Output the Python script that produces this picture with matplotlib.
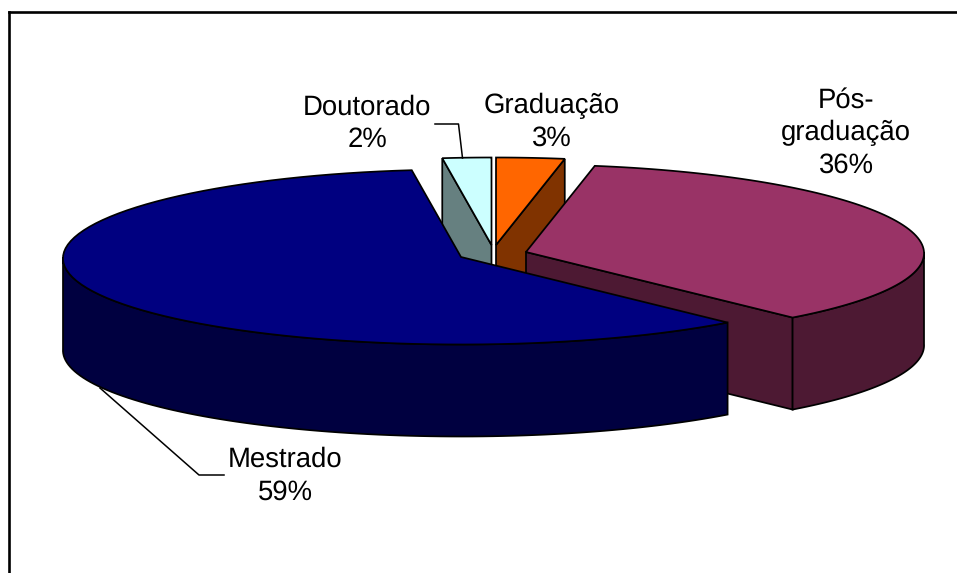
import numpy as np
import matplotlib
matplotlib.use("Agg")
import matplotlib.pyplot as plt
from matplotlib.patches import Polygon

plt.rcParams['font.family'] = ['Liberation Sans', 'DejaVu Sans']
plt.rcParams['text.hinting'] = 'none'

# Data, clockwise from 12 o'clock
categories = ["Graduação", "Pós-graduação", "Mestrado", "Doutorado"]
shares = [2.8, 35.6, 59.4, 2.0]
top_colors = ["#FF6600", "#993366", "#000080", "#CCFFFF"]
side_colors = ["#803300", "#4D1933", "#000040", "#668080"]
label_texts = ["Graduação", "Pós-\ngraduação", "Mestrado", "Doutorado"]

# Layout in pixels
W, H = 957, 573
apex = {"Graduação": (496, 245), "Pós-graduação": (526, 252),
        "Mestrado": (461, 257), "Doutorado": (491.5, 245)}
RX, RY, DEPTH = 398, 87.5, 92
PERSPECTIVE = 0.015
label_pos = {"Graduação": (552, 122), "Pós-graduação": (846, 133),
             "Mestrado": (285, 476), "Doutorado": (367, 123.5)}

fig = plt.figure(figsize=(W / 100, H / 100), dpi=100)
ax = fig.add_axes([0, 0, 1, 1])
ax.set_xlim(0, W)
ax.set_ylim(H, 0)
ax.axis("off")

edges = np.cumsum([0] + shares) / sum(shares) * 360
spans = dict(zip(categories, zip(edges[:-1], edges[1:])))
tops = dict(zip(categories, top_colors))
sides = dict(zip(categories, side_colors))


def rim(cat, t0, t1):
    cx, cy = apex[cat]
    t = np.radians(np.linspace(t0, t1, 90))
    stretch = 1 - PERSPECTIVE * np.cos(t)
    return np.column_stack([cx + RX * np.sin(t) * stretch, cy - RY * np.cos(t)])


def poly(pts, color, z):
    ax.add_patch(Polygon(pts, closed=True, facecolor=color, edgecolor="black",
                         linewidth=1.25, joinstyle="miter", zorder=z))


def down(pts):
    return np.asarray(pts) + [0, DEPTH]


def cut_face(cat, t, z):
    a = np.array([apex[cat]])
    r = rim(cat, t, t)[:1]
    poly(np.vstack([a, r, down(r), down(a)]), sides[cat], z)


def outer_wall(cat, t0, t1, z):
    arc = rim(cat, t0, t1)
    poly(np.vstack([arc, down(arc)[::-1]]), sides[cat], z)


def top_face(cat, z):
    t0, t1 = spans[cat]
    poly(np.vstack([[apex[cat]], rim(cat, t0, t1)]), tops[cat], z)


# Back to front
cut_face("Doutorado", spans["Doutorado"][0], 1)
top_face("Doutorado", 2)
cut_face("Graduação", spans["Graduação"][1], 1)
top_face("Graduação", 2)
cut_face("Pós-graduação", spans["Pós-graduação"][1], 3)
outer_wall("Pós-graduação", 90, spans["Pós-graduação"][1], 3)
top_face("Pós-graduação", 4)
outer_wall("Mestrado", spans["Mestrado"][0], 270, 5)
top_face("Mestrado", 6)

# Labels
for cat, lab, sh in zip(categories, label_texts, shares):
    x, y = label_pos[cat]
    ax.text(x, y, f"{lab}\n{round(sh)}%", ha="center", va="center", ma="center",
            fontsize=19.8, color="black", linespacing=1.3, zorder=8)

# Leader lines
ax.plot([100, 199, 224], [388, 475, 475], color="black", lw=1.1, zorder=7)
ax.plot([462.5, 458.5, 435], [158, 124, 124], color="black", lw=1.1, zorder=7)

# Chart frame (only top and left are visible)
ax.plot([8.5, 8.5], [H, 11.5], color="black", lw=1.9, zorder=9, solid_capstyle="projecting")
ax.plot([8.5, W], [11.5, 11.5], color="black", lw=1.9, zorder=9)

fig.savefig("out.png", dpi=100, facecolor="white")
